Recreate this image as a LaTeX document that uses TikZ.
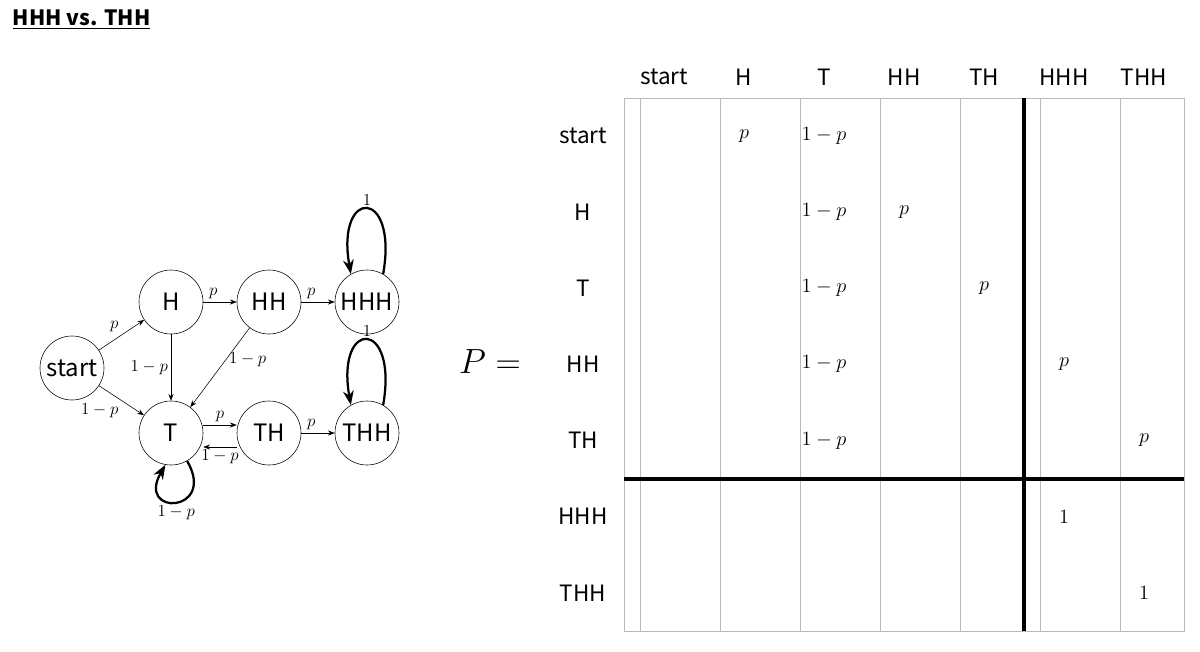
\documentclass[tikz,border=0pt]{standalone}
\usepackage{fontspec}
\usepackage{amsmath}
\newfontfamily\jpsans{Noto Sans CJK JP}
\usetikzlibrary{arrows.meta}
\begin{document}
\begin{tikzpicture}[x=0.025cm,y=-0.025cm,>=Stealth,
  state/.style={draw,circle,minimum size=1.6cm,inner sep=0pt,font=\jpsans\fontsize{17}{19}\selectfont},
  lbl/.style={font=\fontsize{13}{15}\selectfont,inner sep=2pt},
  loopy/.style={line width=1.6pt,->,looseness=7},
  hdr/.style={font=\jpsans\fontsize{16}{18}\selectfont},
  ent/.style={font=\fontsize{15}{17}\selectfont}]
\useasboundingbox (0,0) rectangle (1200,651);
% title
\node[anchor=west,font=\jpsans\bfseries\fontsize{15}{17}\selectfont] (title) at (8,20) {\underline{HHH vs. THH}};
% chain
\node[state] (start) at (72,368) {start};
\node[state] (H) at (171,302) {H};
\node[state] (HH) at (269,302) {HH};
\node[state] (HHH) at (367,302) {HHH};
\node[state] (T) at (171,433) {T};
\node[state] (TH) at (269,433) {TH};
\node[state] (THH) at (367,433) {THH};
\draw[->] (start) -- node[lbl,above left] {$p$} (H);
\draw[->] (start) -- node[lbl,below left] {$1-p$} (T);
\draw[->] (H) -- node[lbl,left] {$1-p$} (T);
\draw[->] (HH) -- node[lbl,right,pos=0.4] {$1-p$} (T);
\draw[->] (H) -- node[lbl,above,pos=0.3] {$p$} (HH);
\draw[->] (HH) -- node[lbl,above,pos=0.3] {$p$} (HHH);
\draw[->] ([yshift=0.2cm]T.east) -- node[lbl,above] {$p$} ([yshift=0.2cm]TH.west);
\draw[->] ([yshift=-0.35cm]TH.west) -- node[lbl,below] {$1-p$} ([yshift=-0.35cm]T.east);
\draw[->] (TH) -- node[lbl,above,pos=0.3] {$p$} (THH);
\draw[loopy] (HHH.60) to[out=80,in=100] node[lbl,above] {$1$} (HHH.120);
\draw[loopy] (THH.60) to[out=80,in=100] node[lbl,above] {$1$} (THH.120);
\draw[loopy] (T.-60) to[out=-60,in=-120] node[lbl,below] {$1-p$} (T.-100);
% P =
\node[font=\fontsize{46}{50}\selectfont] (Peq) at (490,362) {$P=$};
% matrix grid
\draw[gray!55] (624,98) grid[xstep=80,ystep=76.14] (1184,631);
\draw[gray!55] (624,98) rectangle (1184,631);
\draw[line width=2.2pt] (1024,98) -- (1024,631);
\draw[line width=2.2pt] (624,479) -- (1184,479);
\foreach \name [count=\i] in {start,H,T,HH,TH,HHH,THH}{
  \node[hdr] (col\i) at (584+80*\i,77) {\name};
  \node[hdr] (row\i) at (583,136+76.14*\i-76.14) {\name};
}
\foreach \c/\r/\v in {2/1/p,3/1/1-p,3/2/1-p,4/2/p,3/3/1-p,5/3/p,3/4/1-p,6/4/p,3/5/1-p,7/5/p,6/6/1,7/7/1}{
  \node[ent] (e\c\r) at (584+80*\c,136+76.14*\r-76.14) {$\v$};
}
\end{tikzpicture}
\end{document}
